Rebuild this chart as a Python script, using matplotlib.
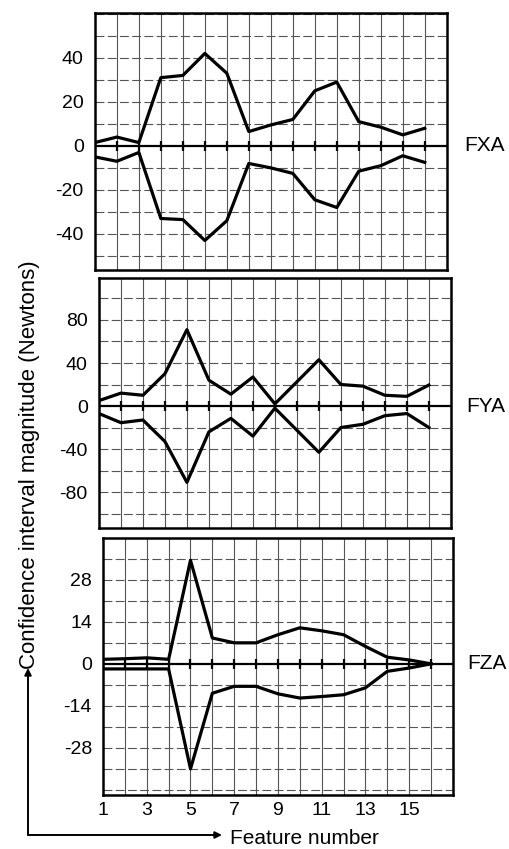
import numpy as np
import matplotlib.pyplot as plt

plt.rcParams['font.family'] = ['Liberation Sans', 'DejaVu Sans']

features = np.arange(1, 17)
xtick_labels = [1, 3, 5, 7, 9, 11, 13, 15]

fxa_upper = [1.5, 4, 1.5, 31, 32, 42, 33, 6.5, 9.5, 12, 25, 29, 11, 8.5, 5, 8]
fxa_lower = [-5, -7, -3, -33, -33.5, -43, -34, -8, -10, -12.5, -24.5, -28, -11.5, -9, -4.5, -7.5]
fxa_ticks = [40, 20, 0, -20, -40]

fya_upper = [5, 12, 10, 30, 71, 24, 11, 27, 2, 22.5, 43, 20, 18.5, 10, 9, 19.5]
fya_lower = [-7, -15.5, -13, -33, -71, -24, -11.5, -28, -2, -22.5, -43, -20, -17, -9, -7, -20]
fya_ticks = [80, 40, 0, -40, -80]

fza_upper = [1.5, 1.7, 2, 1.5, 34.5, 8.6, 7, 7, 9.7, 12, 11, 9.7, 5.8, 2.2, 1.3, 0]
fza_lower = [-1.7, -1.7, -1.7, -1.7, -35, -9.8, -7.5, -7.5, -10, -11.4, -10.9, -10.3, -8, -2.5, -1.4, 0]
fza_ticks = [28, 14, 0, -14, -28]

fig = plt.figure(figsize=(5.1, 8.49), dpi=100)

panels = [
    # position, ylim, grid step, upper, lower, ticks, name, label x
    ([0.186, 0.682, 0.690, 0.303], (-56.4, 60.5), 10, fxa_upper, fxa_lower, fxa_ticks, 'FXA', 1.051),
    ([0.194, 0.378, 0.690, 0.2945], (-113.5, 119), 20, fya_upper, fya_lower, fya_ticks, 'FYA', 1.045),
    ([0.202, 0.0636, 0.686, 0.303], (-43.7, 42), 7, fza_upper, fza_lower, fza_ticks, 'FZA', 1.04),
]

for i, (pos, ylim, step, up, lo, ticks, name, lx) in enumerate(panels):
    ax = fig.add_axes(pos)
    ax.set_xlim(1, 17)
    ax.set_ylim(*ylim)
    for xv in np.arange(2, 17):
        ax.axvline(xv, color='#555555', lw=0.8, zorder=1)
    yv = np.arange(np.ceil(ylim[0] / step) * step, ylim[1], step)
    for y in yv:
        if y != 0:
            ax.axhline(y, color='#555555', lw=0.8, ls=(0, (8, 3)), zorder=1)
    ax.axhline(0, color='black', lw=1.6, zorder=2)
    ax.plot(features, np.zeros(len(features)), ls='none', marker='|',
            ms=7, mew=1.6, color='black', zorder=2)
    ax.plot(features, up, color='black', lw=2.3, zorder=3)
    ax.plot(features, lo, color='black', lw=2.3, zorder=3)
    ax.set_yticks(ticks)
    ax.set_yticklabels([str(t) for t in ticks])
    ax.tick_params(axis='y', length=0, pad=8, labelsize=14)
    if i == 2:
        ax.set_xticks(xtick_labels)
        ax.set_xticklabels([str(t) for t in xtick_labels])
        ax.tick_params(axis='x', length=0, pad=5, labelsize=14)
    else:
        ax.set_xticks([])
    for s in ax.spines.values():
        s.set_linewidth(1.8)
    ax.text(lx, 0, name, transform=ax.get_yaxis_transform(), va='center',
            ha='left', fontsize=15)

fig.text(30 / 510, 1 - 465 / 849, 'Confidence interval magnitude (Newtons)',
         rotation=90, ha='center', va='center', fontsize=16)
fig.text(230 / 510, 1 - 838 / 849, 'Feature number', ha='left', va='center',
         fontsize=15)

fig.patches.append(plt.matplotlib.patches.FancyArrowPatch(
    (28 / 510, 1 - 835 / 849), (28 / 510, 1 - 668 / 849),
    transform=fig.transFigure, arrowstyle='-|>', mutation_scale=10,
    lw=1.4, color='black', shrinkA=0, shrinkB=0))
fig.patches.append(plt.matplotlib.patches.FancyArrowPatch(
    (28 / 510, 1 - 835 / 849), (222 / 510, 1 - 835 / 849),
    transform=fig.transFigure, arrowstyle='-|>', mutation_scale=10,
    lw=1.4, color='black', shrinkA=0, shrinkB=0))

fig.savefig('out.png', dpi=100)
